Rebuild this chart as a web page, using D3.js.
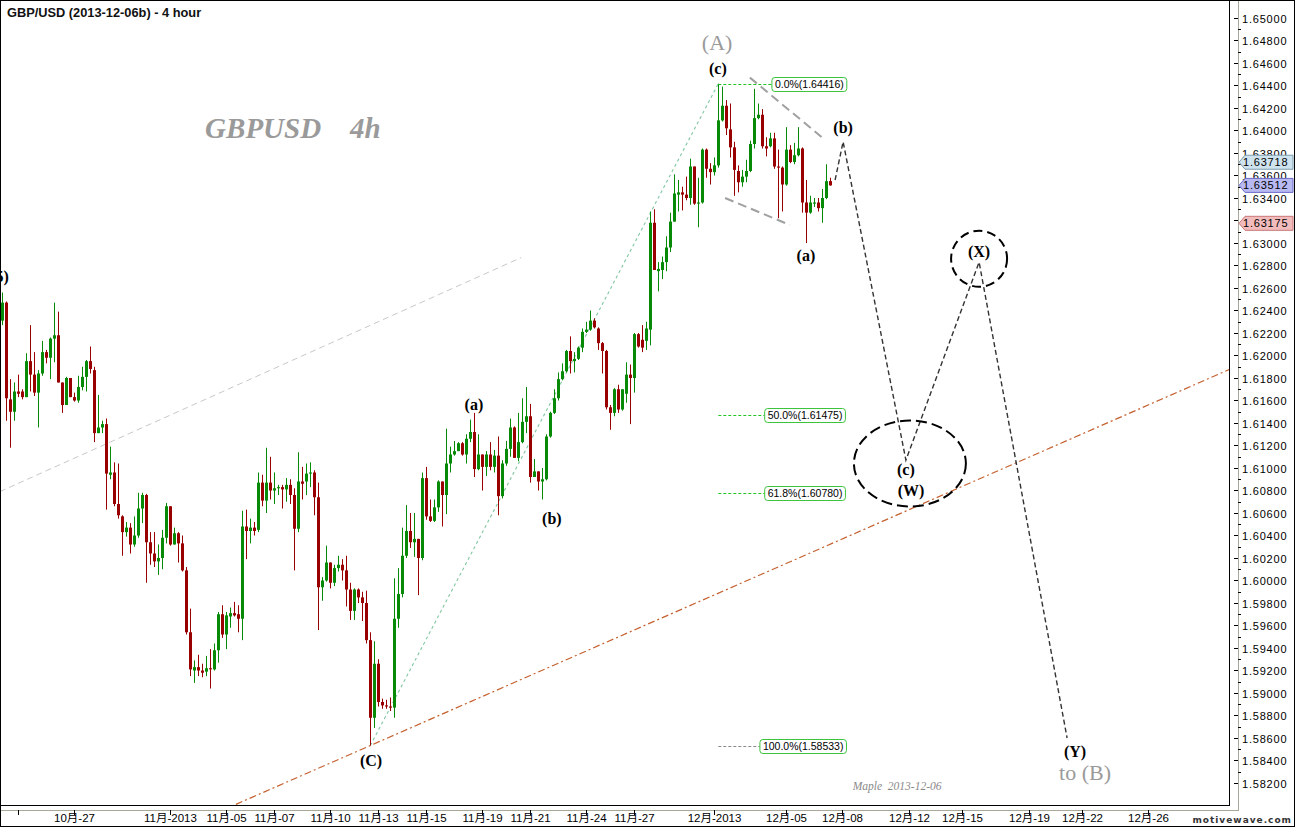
<!DOCTYPE html>
<html><head><meta charset="utf-8">
<script src="https://cdn.jsdelivr.net/npm/d3@7"></script>
<style>body{margin:0;background:#fff}svg{display:block}</style>
</head><body>
<svg id="c" width="1295" height="827"></svg>
<script>
// ---- candle data (4 hour bars) ----
const openP=[1.6231,1.6247,1.6161,1.6150,1.6168,1.6168,1.6163,1.6195,1.6183,1.6167,1.6184,1.6203,1.6198,1.6215,1.6218,1.6176,1.6156,1.6180,1.6163,1.6160,
1.6172,1.6181,1.6195,1.6187,1.6131,1.6136,1.6139,1.6094,1.6096,1.6068,1.6057,1.6043,1.6047,1.6032,1.6040,1.6064,1.6076,1.6034,1.6024,1.6017,
1.6020,1.6038,1.6066,1.6032,1.6042,1.6033,1.6009,1.5954,1.5920,1.5923,1.5920,1.5919,1.5922,1.5921,1.5938,1.5970,1.5952,1.5968,1.5971,1.5970,
1.5966,1.6048,1.6044,1.6047,1.6045,1.6087,1.6071,1.6087,1.6080,1.6082,1.6083,1.6081,1.6085,1.6076,1.6046,1.6088,1.6088,1.6095,1.6096,1.6074,
1.5994,1.6000,1.6016,1.5998,1.6011,1.6014,1.6009,1.5992,1.5973,1.5992,1.5985,1.5980,1.5947,1.5878,1.5926,1.5892,1.5889,1.5888,1.5887,1.5966,
1.5988,1.6022,1.6044,1.6034,1.6037,1.6020,1.6091,1.6057,1.6053,1.6065,1.6088,1.6076,1.6104,1.6112,1.6115,1.6122,1.6112,1.6126,1.6132,1.6099,
1.6112,1.6101,1.6112,1.6101,1.6111,1.6075,1.6104,1.6117,1.6136,1.6109,1.6123,1.6141,1.6146,1.6092,1.6097,1.6088,1.6090,1.6128,1.6149,1.6162,
1.6179,1.6186,1.6204,1.6195,1.6197,1.6207,1.6221,1.6223,1.6231,1.6224,1.6211,1.6204,1.6154,1.6149,1.6170,1.6152,1.6166,1.6183,1.6180,1.6219,
1.6214,1.6213,1.6223,1.6318,1.6275,1.6276,1.6283,1.6296,1.6319,1.6343,1.6345,1.6343,1.6340,1.6368,1.6335,1.6336,1.6383,1.6366,1.6363,1.6369,
1.6409,1.6422,1.6401,1.6385,1.6364,1.6354,1.6359,1.6364,1.6388,1.6411,1.6414,1.6386,1.6386,1.6393,1.6368,1.6367,1.6352,1.6383,1.6372,1.6378,
1.6384,1.6336,1.6327,1.6335,1.6336,1.6331,1.6340,1.6355];
const highP=[1.6256,1.6248,1.6179,1.6176,1.6183,1.6170,1.6202,1.6227,1.6203,1.6187,1.6213,1.6205,1.6216,1.6247,1.6239,1.6176,1.6181,1.6180,1.6167,1.6182,
1.6190,1.6196,1.6208,1.6190,1.6165,1.6142,1.6144,1.6119,1.6105,1.6104,1.6058,1.6052,1.6051,1.6057,1.6078,1.6078,1.6077,1.6043,1.6043,1.6032,
1.6045,1.6069,1.6066,1.6047,1.6043,1.6040,1.6012,1.5975,1.5929,1.5934,1.5926,1.5933,1.5939,1.5944,1.5972,1.5978,1.5972,1.5976,1.5981,1.5978,
1.6062,1.6063,1.6055,1.6052,1.6096,1.6094,1.6118,1.6110,1.6096,1.6085,1.6085,1.6091,1.6090,1.6082,1.6114,1.6101,1.6104,1.6105,1.6098,1.6087,
1.6003,1.6031,1.6016,1.6014,1.6022,1.6019,1.6022,1.5998,1.5993,1.5993,1.5990,1.5991,1.5954,1.5946,1.5930,1.5895,1.5894,1.5896,1.6002,1.6011,
1.6047,1.6067,1.6060,1.6060,1.6037,1.6096,1.6101,1.6072,1.6072,1.6089,1.6088,1.6135,1.6119,1.6124,1.6123,1.6123,1.6130,1.6143,1.6149,1.6130,
1.6112,1.6115,1.6123,1.6116,1.6128,1.6107,1.6124,1.6144,1.6137,1.6149,1.6162,1.6172,1.6157,1.6108,1.6097,1.6100,1.6130,1.6150,1.6170,1.6185,
1.6193,1.6205,1.6217,1.6203,1.6208,1.6224,1.6230,1.6240,1.6233,1.6225,1.6212,1.6205,1.6156,1.6171,1.6174,1.6170,1.6194,1.6192,1.6220,1.6220,
1.6227,1.6230,1.6328,1.6330,1.6283,1.6288,1.6306,1.6327,1.6361,1.6356,1.6350,1.6359,1.6375,1.6368,1.6358,1.6384,1.6384,1.6371,1.6376,1.64416,
1.6439,1.6427,1.6424,1.6390,1.6369,1.6365,1.6374,1.6391,1.6437,1.6424,1.6419,1.6394,1.6398,1.6398,1.6383,1.6368,1.6403,1.6387,1.6389,1.6403,
1.6385,1.6356,1.6342,1.6340,1.6340,1.6348,1.6370,1.6358];
const lowP=[1.6227,1.6142,1.6118,1.6142,1.6163,1.6161,1.6163,1.6168,1.6164,1.6136,1.6182,1.6193,1.6179,1.6194,1.6176,1.6149,1.6156,1.6163,1.6159,1.6158,
1.6169,1.6168,1.6184,1.6123,1.6131,1.6131,1.6063,1.6090,1.6066,1.6055,1.6022,1.6039,1.6024,1.6030,1.6038,1.6051,1.5998,1.6014,1.6012,1.6005,
1.6010,1.6033,1.6031,1.6032,1.6016,1.6008,1.5952,1.5915,1.5909,1.5915,1.5914,1.5915,1.5904,1.5920,1.5927,1.5949,1.5939,1.5958,1.5968,1.5954,
1.5947,1.6019,1.6033,1.6040,1.6043,1.6066,1.6060,1.6072,1.6068,1.6076,1.6064,1.6070,1.6068,1.6009,1.6043,1.6072,1.6076,1.6083,1.6058,1.5956,
1.5982,1.5999,1.5993,1.5995,1.6008,1.6000,1.5977,1.5965,1.5965,1.5980,1.5964,1.5944,1.58533,1.5869,1.5888,1.5886,1.5886,1.5884,1.5878,1.5958,
1.5985,1.6020,1.6029,1.6021,1.5987,1.6018,1.6054,1.6052,1.6052,1.6061,1.6048,1.6059,1.6096,1.6111,1.6115,1.6111,1.6104,1.6123,1.6092,1.6098,
1.6080,1.6093,1.6098,1.6096,1.6058,1.6073,1.6102,1.6110,1.6109,1.6106,1.6122,1.6131,1.6087,1.6092,1.6080,1.6072,1.6089,1.6127,1.6148,1.6160,
1.6178,1.6185,1.6184,1.6185,1.6196,1.6203,1.6220,1.6222,1.6224,1.6205,1.6184,1.6152,1.6134,1.6146,1.6149,1.6151,1.6158,1.6139,1.6167,1.6207,
1.6203,1.6205,1.6209,1.6276,1.6257,1.6268,1.6275,1.6292,1.6319,1.6328,1.6329,1.6338,1.6334,1.6334,1.6314,1.6335,1.6358,1.6352,1.6360,1.6367,
1.6408,1.6396,1.6376,1.6342,1.6345,1.6350,1.6354,1.6363,1.6384,1.6410,1.6384,1.6377,1.6385,1.6366,1.6322,1.6328,1.6351,1.6371,1.6370,1.6377,
1.6327,1.6300,1.6326,1.6332,1.6328,1.6318,1.6339,1.6351];
const closeP=[1.6247,1.6162,1.6150,1.6168,1.6166,1.6163,1.6195,1.6183,1.6167,1.6184,1.6203,1.6198,1.6215,1.6218,1.6176,1.6156,1.6180,1.6163,1.6160,1.6172,
1.6181,1.6195,1.6188,1.6131,1.6136,1.6139,1.6095,1.6096,1.6068,1.6058,1.6043,1.6047,1.6032,1.6040,1.6064,1.6076,1.6034,1.6024,1.6017,1.6020,
1.6038,1.6066,1.6032,1.6042,1.6033,1.6009,1.5954,1.5921,1.5923,1.5920,1.5918,1.5922,1.5921,1.5938,1.5970,1.5952,1.5969,1.5971,1.5969,1.5966,
1.6048,1.6044,1.6047,1.6044,1.6087,1.6071,1.6087,1.6080,1.6082,1.6083,1.6081,1.6085,1.6076,1.6046,1.6088,1.6086,1.6095,1.6096,1.6074,1.5994,
1.6000,1.6016,1.5998,1.6011,1.6014,1.6009,1.5992,1.5973,1.5992,1.5985,1.5980,1.5947,1.5878,1.5926,1.5892,1.5889,1.5888,1.5887,1.5966,1.5988,
1.6022,1.6044,1.6034,1.6037,1.6020,1.6091,1.6057,1.6053,1.6065,1.6088,1.6076,1.6104,1.6112,1.6115,1.6122,1.6112,1.6126,1.6132,1.6099,1.6112,
1.6101,1.6112,1.6101,1.6111,1.6075,1.6104,1.6117,1.6136,1.6109,1.6123,1.6141,1.6146,1.6092,1.6097,1.6088,1.6090,1.6128,1.6149,1.6162,1.6179,
1.6186,1.6204,1.6195,1.6197,1.6207,1.6221,1.6223,1.6231,1.6225,1.6211,1.6204,1.6154,1.6149,1.6170,1.6152,1.6170,1.6183,1.6180,1.6219,1.6208,
1.6207,1.6224,1.6318,1.6276,1.6277,1.6283,1.6296,1.6319,1.6344,1.6345,1.6343,1.6340,1.6368,1.6335,1.6336,1.6383,1.6366,1.6363,1.6369,1.6409,
1.6422,1.6402,1.6385,1.6365,1.6354,1.6359,1.6364,1.6388,1.6411,1.6414,1.6386,1.6384,1.6393,1.6368,1.6367,1.6352,1.6383,1.6372,1.6378,1.6384,
1.6336,1.6327,1.6336,1.6336,1.6331,1.6340,1.6355,1.63512];

// ---- axis ticks ----
const dateTickIndex=[4,18,42,56,68,82,94,106,120,132,146,158,178,196,210,226.6,240,256.6,270,286.5];
const dateTickLabels=["","10月-27","11月-2013","11月-05","11月-07","11月-10","11月-13","11月-15","11月-19","11月-21","11月-24","11月-27","12月-2013","12月-05","12月-08","12月-12","12月-15","12月-19","12月-22","12月-26"];
const priceMin=1.582, priceMax=1.650, priceStep=0.002;

// ---- fibonacci retracement ----
const fibPct=["0.0%","50.0%","61.8%","100.0%"];
const fibPrice=[1.64416,1.61475,1.60780,1.58533];
const fibStartIdx=179;
const fibBoxIdx=[192.4,190.6,190.6,189.4];

// ---- price tags on axis ----
const tagPrices=[1.63718,1.63512,1.63175];
const tagFill=["#cfe3ee","#b9b9f2","#f3bcbc"];
const tagStroke=["#7d9db0","#6b6bc8","#c87878"];

// ---- drawn lines (index, price) ----
const channelLine=[[-0.6,1.6079],[129.7,1.6287]];
const baseLine=[[92,1.58533],[306.4,1.6187]];
const impulseLine=[[92,1.58533],[179,1.64416]];
const wedgeUpper=[[186.9,1.6447],[204.9,1.6394]];
const wedgeLower=[[180.7,1.6340],[196.9,1.6316]];
const projection=[[208.2,1.6356],[210.2,1.6390],[225.9,1.6107],[244.2,1.6283],[266.2,1.5860]];
const ellipseW={idx:226.9,price:1.6104};
const circleX={idx:244.2,price:1.6286};

// ---- wave labels (index, price) ----
const waveLabels=[
 {t:"(c)",i:178.9,p:1.64502},{t:"(b)",i:210.2,p:1.63978},{t:"(a)",i:200.9,p:1.62840},
 {t:"(a)",i:117.9,p:1.61516},{t:"(b)",i:137.4,p:1.60502},{t:"(C)",i:92.2,p:1.58351},
 {t:"(c)",i:225.9,p:1.60938},{t:"(W)",i:227.2,p:1.60751},{t:"(X)",i:244.2,p:1.62876},
 {t:"(Y)",i:268.2,p:1.58431},{t:"(5)",i:-0.7,p:1.62653}];
const grayLabels=[{t:"(A)",i:178.7,p:1.64716},{t:"to (B)",i:270.7,p:1.58227}];

const W=1295,H=827, plotR=1229, plotB=805, axisX=1238;
const svg=d3.select("#c");
const x=d3.scaleLinear().domain([0,300]).range([2.3,1202.3]);
const y=d3.scaleLinear().domain([priceMin,priceMax]).range([783,18]);

svg.append("rect").attr("width",W).attr("height",H).attr("fill","#fff");
svg.append("defs").append("clipPath").attr("id","clip").append("rect")
  .attr("x",1).attr("y",1).attr("width",plotR-1).attr("height",plotB-1);
const plot=svg.append("g").attr("clip-path","url(#clip)");

const line=d3.line().x(d=>x(d[0])).y(d=>y(d[1]));
function extend(pts,i0,i1){const [a,b]=pts;const s=(b[1]-a[1])/(b[0]-a[0]);return [[i0,a[1]+s*(i0-a[0])],[i1,a[1]+s*(i1-a[0])]];}

// channel & base lines
plot.append("path").attr("d",line(channelLine)).attr("fill","none").attr("stroke","#c8c8c8").attr("stroke-width",1).attr("stroke-dasharray","6,4");
plot.append("path").attr("d",line(extend(baseLine,0,320))).attr("fill","none").attr("stroke","#c5602e").attr("stroke-width",1.2).attr("stroke-dasharray","7,3,2,3");
plot.append("path").attr("d",line(impulseLine)).attr("fill","none").attr("stroke","#7fc7a0").attr("stroke-width",1.1).attr("stroke-dasharray","3,3");

// wedge
[wedgeUpper,wedgeLower].forEach(l=>plot.append("path").attr("d",line(l)).attr("fill","none").attr("stroke","#a0a0a0").attr("stroke-width",2).attr("stroke-dasharray","9,5"));

// candles
const idx=d3.range(openP.length);
const cg=plot.append("g");
idx.forEach(i=>{
  const up=closeP[i]>=openP[i];
  const col=up?"#078a07":"#990000";
  const cx=Math.floor(x(i));
  cg.append("line").attr("x1",cx+0.5).attr("x2",cx+0.5).attr("y1",y(highP[i])).attr("y2",y(lowP[i])).attr("stroke",col).attr("stroke-width",1);
  const y0=y(Math.max(openP[i],closeP[i])), y1=y(Math.min(openP[i],closeP[i]));
  cg.append("rect").attr("x",cx-1).attr("width",3).attr("y",y0).attr("height",Math.max(1,y1-y0)).attr("fill",col);
});

// fib levels
fibPrice.forEach((p,k)=>{
  const yy=Math.round(y(p))+0.5;
  const last=k===fibPrice.length-1;
  plot.append("line").attr("x1",x(fibStartIdx)).attr("x2",x(fibBoxIdx[k])).attr("y1",yy).attr("y2",yy)
    .attr("stroke",last?"#8a8a8a":"#22c522").attr("stroke-width",1).attr("stroke-dasharray","3,2");
  const txt=fibPct[k]+"("+p.toFixed(5)+")";
  const g=plot.append("g");
  const t=g.append("text").attr("x",x(fibBoxIdx[k])+3).attr("y",yy+3.5).attr("font-family","Liberation Sans, Arial, sans-serif").attr("font-size",10.5).attr("fill","#000").text(txt);
  const w=t.node().getComputedTextLength();
  g.insert("rect","text").attr("x",x(fibBoxIdx[k])).attr("y",yy-7).attr("width",w+6).attr("height",14).attr("rx",3)
    .attr("fill","#fff").attr("stroke","#3cc43c").attr("stroke-width",1);
});

// projection path
plot.append("path").attr("d",line(projection)).attr("fill","none").attr("stroke","#333").attr("stroke-width",1.4).attr("stroke-dasharray","5,3");
plot.append("ellipse").attr("cx",x(ellipseW.idx)).attr("cy",y(ellipseW.price)).attr("rx",56).attr("ry",43)
  .attr("fill","none").attr("stroke","#000").attr("stroke-width",2).attr("stroke-dasharray","11,5");
plot.append("circle").attr("cx",x(circleX.idx)).attr("cy",y(circleX.price)).attr("r",28)
  .attr("fill","none").attr("stroke","#000").attr("stroke-width",2).attr("stroke-dasharray","9,5");

// wave labels
plot.selectAll("text.w").data(waveLabels).enter().append("text").attr("class","w")
  .attr("x",d=>x(d.i)).attr("y",d=>y(d.p)).attr("text-anchor","middle")
  .attr("font-family","Liberation Serif, Times New Roman, serif").attr("font-weight","bold").attr("font-size",16).attr("fill","#000").text(d=>d.t);
plot.selectAll("text.g").data(grayLabels).enter().append("text").attr("class","g")
  .attr("x",d=>x(d.i)).attr("y",d=>y(d.p)).attr("text-anchor","middle")
  .attr("font-family","Liberation Serif, Times New Roman, serif").attr("font-size",22).attr("fill","#9a9a9a").text(d=>d.t);

// watermark title
plot.append("text").attr("x",x(50.7)).attr("y",y(1.63933)).attr("font-family","Liberation Serif, serif").attr("font-style","italic").attr("font-weight","bold")
  .attr("font-size",29).attr("fill","#9a9a9a").attr("xml:space","preserve").text("GBPUSD    4h");
plot.append("text").attr("x",x(223.7)).attr("y",y(1.58138)).attr("text-anchor","middle").attr("font-family","Liberation Serif, serif").attr("font-style","italic")
  .attr("font-size",11.5).attr("fill","#8a8a8a").attr("xml:space","preserve").text("Maple  2013-12-06");

// chart title
svg.append("text").attr("x",7).attr("y",17).attr("font-family","Liberation Sans, Arial, sans-serif").attr("font-weight","bold").attr("font-size",12.8).attr("fill","#111")
  .text("GBP/USD (2013-12-06b) - 4 hour");

// ---- right axis ----
const ax=svg.append("g");
ax.append("line").attr("x1",plotR+0.5).attr("x2",plotR+0.5).attr("y1",0).attr("y2",plotB).attr("stroke","#000");
ax.append("line").attr("x1",axisX+0.5).attr("x2",axisX+0.5).attr("y1",0).attr("y2",plotB+5).attr("stroke","#a9a99a");
const majors=d3.range(Math.round((priceMax-priceMin)/priceStep)+1).map(k=>priceMin+k*priceStep);
majors.forEach(p=>{
  const yy=Math.round(y(p))+0.5;
  ax.append("line").attr("x1",axisX-4).attr("x2",axisX).attr("y1",yy).attr("y2",yy).attr("stroke","#000");
  const ym=Math.round(y(p+priceStep/2))+0.5;
  if(p+priceStep/2<=priceMax+1e-9) ax.append("line").attr("x1",axisX).attr("x2",axisX+3).attr("y1",ym).attr("y2",ym).attr("stroke","#000");
  // labels hidden behind a price tag are not drawn
  const hidden=tagPrices.some(tp=>Math.abs(y(tp)-y(p))<5);
  if(!hidden) ax.append("text").attr("x",axisX+4).attr("y",yy+4).attr("font-family","Liberation Sans, Arial, sans-serif").attr("font-size",11).attr("letter-spacing","0.8px").attr("fill","#000").text(p.toFixed(5));
});
tagPrices.forEach((p,k)=>{
  const yy=y(p);
  ax.append("path").attr("d",`M${axisX+1},${yy} L${axisX+7},${yy-7} L1293,${yy-7} L1293,${yy+7} L${axisX+7},${yy+7} Z`)
    .attr("fill",tagFill[k]).attr("stroke",tagStroke[k]).attr("stroke-width",1);
  ax.append("text").attr("x",axisX+5).attr("y",yy+4).attr("font-family","Liberation Sans, Arial, sans-serif").attr("font-size",11).attr("letter-spacing","0.8px").attr("fill","#000").text(p.toFixed(5));
});

// ---- bottom axis ----
const bx=svg.append("g");
bx.append("line").attr("x1",0).attr("x2",plotR+1).attr("y1",plotB+0.5).attr("y2",plotB+0.5).attr("stroke","#000");
bx.append("line").attr("x1",0).attr("x2",axisX+1).attr("y1",plotB+5.5).attr("y2",plotB+5.5).attr("stroke","#a9a99a");
dateTickIndex.forEach((d,k)=>{
  const xx=Math.round(x(d))+0.5;
  bx.append("line").attr("x1",xx).attr("x2",xx).attr("y1",plotB+5).attr("y2",plotB+10).attr("stroke","#000");
  bx.append("text").attr("x",xx).attr("y",plotB+17).attr("text-anchor","middle").attr("font-family","Liberation Sans, Noto Sans CJK SC, sans-serif").attr("font-size",11.5).attr("fill","#000").text(dateTickLabels[k]);
});
svg.append("text").attr("x",1292).attr("y",823).attr("text-anchor","end").attr("font-family","DejaVu Sans, sans-serif").attr("font-weight","bold").attr("font-size",9).attr("letter-spacing","1px").attr("fill","#333").text("motivewave.com");
svg.append("rect").attr("x",0.5).attr("y",0.5).attr("width",W-1).attr("height",H-1).attr("fill","none").attr("stroke","#000");
</script>
</body></html>
